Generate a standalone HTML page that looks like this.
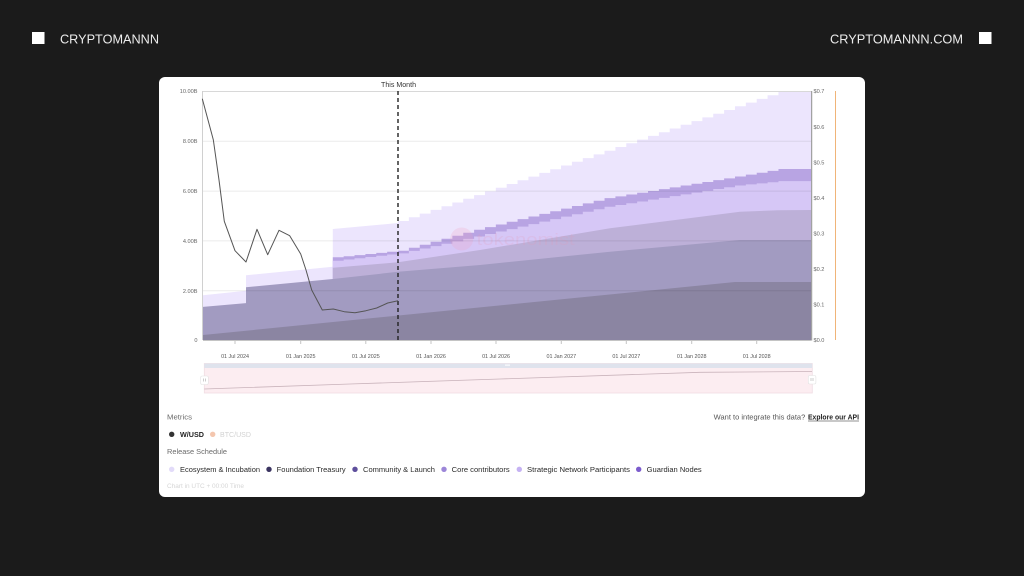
<!DOCTYPE html>
<html>
<head>
<meta charset="utf-8">
<style>
html,body{margin:0;padding:0;background:#1b1b1b;}
body{width:1024px;height:576px;overflow:hidden;}
svg{display:block;}
text{font-family:"Liberation Sans",sans-serif;}
</style>
</head>
<body>
<svg width="1024" height="576" viewBox="0 0 1024 576" xmlns="http://www.w3.org/2000/svg">
  <rect x="0" y="0" width="1024" height="576" fill="#1b1b1b"/>

  <!-- header -->
  <rect x="32" y="32" width="12.5" height="12" fill="#ffffff"/>
  <text x="60" y="43.7" font-size="12.6" fill="#ececec" textLength="99" lengthAdjust="spacingAndGlyphs">CRYPTOMANNN</text>
  <text x="830" y="43.7" font-size="12.6" fill="#ececec" textLength="133" lengthAdjust="spacingAndGlyphs">CRYPTOMANNN.COM</text>
  <rect x="979" y="32" width="12.5" height="12" fill="#ffffff"/>

  <!-- card -->
  <rect x="159" y="77" width="706" height="420" rx="6" ry="6" fill="#ffffff"/>

  <!-- plot areas -->
  <g>
    <path fill="#ece5fd" d="M203,295.2 L246,290.7 L246,275.3 L332.8,266.8 L332.8,229 L398,223 L398,221
      h10.87v-3.7 h10.87v-3.7 h10.87v-3.7 h10.87v-3.7 h10.87v-3.7 h10.87v-3.7 h10.87v-3.7
      h10.87v-3.7 h10.87v-3.7 h10.87v-3.7 h10.87v-3.7 h10.87v-3.7 h10.87v-3.7 h10.87v-3.7
      h10.87v-3.7 h10.87v-3.7 h10.87v-3.7 h10.87v-3.7 h10.87v-3.7 h10.87v-3.7 h10.87v-3.7
      h10.87v-3.7 h10.87v-3.7 h10.87v-3.7 h10.87v-3.7 h10.87v-3.7 h10.87v-3.7 h10.87v-3.7
      h10.87v-3.7 h10.87v-3.7 h10.87v-3.7 h10.87v-3.7 h10.87v-3.7 h10.87v-3.7 h10.87v-3.7
      V91 H811 V340 H203 Z"/>
    <path fill="#b8a4e3" d="M332.8,257.3
      h10.87v-1.1 h10.87v-1.1 h10.87v-1.1 h10.87v-1.1 h10.87v-1.1 h10.87v-1.1
      h10.87v-3 h10.87v-3 h10.87v-3 h10.87v-3 h10.87v-3 h10.87v-3 h10.87v-3
      h10.87v-2.63 h10.87v-2.63 h10.87v-2.63 h10.87v-2.63 h10.87v-2.63 h10.87v-2.63
      h10.87v-2.63 h10.87v-2.63 h10.87v-2.63 h10.87v-2.63 h10.87v-2.63 h10.87v-2.63
      h10.87v-1.8 h10.87v-1.8 h10.87v-1.8 h10.87v-1.8 h10.87v-1.8 h10.87v-1.8
      h10.87v-1.8 h10.87v-1.8 h10.87v-1.8 h10.87v-1.8 h10.87v-1.8 h10.87v-1.8
      h10.87v-1.9 h10.87v-1.9 h10.87v-1.9 h10.87v-1.9
      H811 V340 H332.8 Z"/>
    <path fill="#d6c7f6" d="M332.8,260.7
      h10.87v-1.23 h10.87v-1.23 h10.87v-1.23 h10.87v-1.23 h10.87v-1.23 h10.87v-1.23
      h10.87v-2.4 h10.87v-2.4 h10.87v-2.4 h10.87v-2.4 h10.87v-2.4 h10.87v-2.4 h10.87v-2.4
      h10.87v-2.48 h10.87v-2.48 h10.87v-2.48 h10.87v-2.48 h10.87v-2.48 h10.87v-2.48
      h10.87v-2.48 h10.87v-2.48 h10.87v-2.48 h10.87v-2.48 h10.87v-2.48 h10.87v-2.48
      h10.87v-1.77 h10.87v-1.77 h10.87v-1.77 h10.87v-1.77 h10.87v-1.77 h10.87v-1.77
      h10.87v-1.77 h10.87v-1.77 h10.87v-1.77 h10.87v-1.77 h10.87v-1.77 h10.87v-1.77
      h10.87v-1.1 h10.87v-1.1 h10.87v-1.1 h10.87v-1.1
      H811 V340 H332.8 Z"/>
    <path fill="#bdb0d8" d="M332.8,267.7 L398,262.3 L480,250 L610,228.3 L740,211.7 L778,210.3 L811,210 V340 H332.8 Z"/>
    <path fill="#a29bc1" d="M203,306.9 L246,303.1 L246,287.2 L332.8,279 L398,271.8 L480,265 L610,251.7 L740,240 L811,240 V340 H203 Z"/>
    <path fill="#8b85a2" d="M203,335 L735,282 L811,282 V340 H203 Z"/>
  </g>

  <!-- watermark -->
  <circle cx="461.7" cy="239" r="11.5" fill="#f0a0bf" fill-opacity="0.22"/>
  <text x="476.7" y="245" font-size="17" fill="#e49ab8" fill-opacity="0.2" textLength="98" lengthAdjust="spacingAndGlyphs">tokenomist</text>

  <!-- gridlines -->
  <g stroke="#000" stroke-opacity="0.08" stroke-width="1">
    <line x1="203" y1="91.5" x2="811" y2="91.5" stroke="#d8d8d8" stroke-opacity="1"/>
    <line x1="203" y1="141.3" x2="811" y2="141.3"/>
    <line x1="203" y1="191.1" x2="811" y2="191.1"/>
    <line x1="203" y1="240.9" x2="811" y2="240.9"/>
    <line x1="203" y1="290.7" x2="811" y2="290.7"/>
  </g>
  <line x1="202.5" y1="91" x2="202.5" y2="340" stroke="#d0d0d0" stroke-width="1"/>
  <line x1="203" y1="340.5" x2="811" y2="340.5" stroke="#c4c4c4" stroke-width="1"/>
  <line x1="811.7" y1="91" x2="811.7" y2="340.5" stroke="#8a8a8a" stroke-width="1"/>
  <line x1="835.5" y1="91" x2="835.5" y2="340" stroke="#f0b478" stroke-width="1"/>
  <g stroke="#c4c4c4" stroke-width="1">
    <line x1="235" y1="340" x2="235" y2="344"/>
    <line x1="300.7" y1="340" x2="300.7" y2="344"/>
    <line x1="365.8" y1="340" x2="365.8" y2="344"/>
    <line x1="431" y1="340" x2="431" y2="344"/>
    <line x1="496" y1="340" x2="496" y2="344"/>
    <line x1="561.3" y1="340" x2="561.3" y2="344"/>
    <line x1="626.3" y1="340" x2="626.3" y2="344"/>
    <line x1="691.7" y1="340" x2="691.7" y2="344"/>
    <line x1="756.7" y1="340" x2="756.7" y2="344"/>
  </g>

  <g font-size="5.6" fill="#666" text-anchor="end">
    <text x="197.5" y="93">10.00B</text>
    <text x="197.5" y="143">8.00B</text>
    <text x="197.5" y="193">6.00B</text>
    <text x="197.5" y="243">4.00B</text>
    <text x="197.5" y="293">2.00B</text>
    <text x="197.5" y="342">0</text>
  </g>
  <g font-size="5.6" fill="#666">
    <text x="813.5" y="93">$0.7</text>
    <text x="813.5" y="129">$0.6</text>
    <text x="813.5" y="164.5">$0.5</text>
    <text x="813.5" y="200">$0.4</text>
    <text x="813.5" y="235.5">$0.3</text>
    <text x="813.5" y="271">$0.2</text>
    <text x="813.5" y="306.5">$0.1</text>
    <text x="813.5" y="342">$0.0</text>
  </g>
  <g font-size="5.4" fill="#555" text-anchor="middle">
    <text x="235" y="358">01 Jul 2024</text>
    <text x="300.7" y="358">01 Jan 2025</text>
    <text x="365.8" y="358">01 Jul 2025</text>
    <text x="431" y="358">01 Jan 2026</text>
    <text x="496" y="358">01 Jul 2026</text>
    <text x="561.3" y="358">01 Jan 2027</text>
    <text x="626.3" y="358">01 Jul 2027</text>
    <text x="691.7" y="358">01 Jan 2028</text>
    <text x="756.7" y="358">01 Jul 2028</text>
  </g>

  <line x1="398" y1="91" x2="398" y2="340" stroke="#222" stroke-width="1.4" stroke-dasharray="4,3"/>
  <text x="398.5" y="87" font-size="7" fill="#333" text-anchor="middle" textLength="35" lengthAdjust="spacingAndGlyphs">This Month</text>

  <polyline fill="none" stroke="#555" stroke-width="1" stroke-linejoin="round"
    points="202.3,98.7 213.3,139.7 219,180 224.3,221.3 235,250.7 246,262 257,229.3 267.7,254.7 279,230.3 289.7,235.7 300.7,254 306,270 311.7,290 322.3,310 333.3,309 344.3,311.7 355,312.7 366,310.7 376.7,308 387.7,303 398,300.7"/>

  <rect x="204.3" y="363.5" width="608" height="29.5" fill="#fcedf1" stroke="#f0dde3" stroke-width="0.8"/>
  <rect x="204.3" y="363.5" width="608" height="4.5" fill="#dfe3ed"/>
  <rect x="505" y="364.6" width="5" height="1" fill="#ffffff"/>
  <polyline fill="none" stroke="#c9b3bb" stroke-width="0.8" points="204.3,389 350,384 500,379 700,372.3 812,371.5"/>
  <rect x="200.7" y="376" width="7.6" height="8.5" rx="1.5" fill="#ffffff" stroke="#e2e2e2" stroke-width="0.6"/>
  <line x1="203.5" y1="378.5" x2="203.5" y2="381.5" stroke="#999" stroke-width="0.5"/>
  <line x1="205.5" y1="378.5" x2="205.5" y2="381.5" stroke="#999" stroke-width="0.5"/>
  <rect x="808.3" y="375.5" width="7.6" height="8.5" rx="1.5" fill="#ffffff" stroke="#e2e2e2" stroke-width="0.6"/>
  <line x1="811" y1="378" x2="811" y2="381" stroke="#999" stroke-width="0.5"/>
  <line x1="813" y1="378" x2="813" y2="381" stroke="#999" stroke-width="0.5"/>

  <text x="167" y="419.5" font-size="7" fill="#6a6a6a" textLength="25" lengthAdjust="spacingAndGlyphs">Metrics</text>
  <circle cx="171.7" cy="434.3" r="2.7" fill="#333"/>
  <text x="180" y="436.8" font-size="7" font-weight="bold" fill="#222" textLength="24" lengthAdjust="spacingAndGlyphs">W/USD</text>
  <circle cx="212.7" cy="434.3" r="2.7" fill="#f4c6ae"/>
  <text x="220" y="436.8" font-size="7" fill="#d2d2d2" textLength="31" lengthAdjust="spacingAndGlyphs">BTC/USD</text>

  <text x="713.7" y="419.5" font-size="7" fill="#555" textLength="91.6" lengthAdjust="spacingAndGlyphs">Want to integrate this data?</text>
  <text x="808" y="419.5" font-size="7" font-weight="bold" fill="#222" textLength="51" lengthAdjust="spacingAndGlyphs">Explore our API</text>
  <line x1="808" y1="421" x2="859" y2="421" stroke="#222" stroke-width="0.6"/>

  <text x="167" y="454.2" font-size="7" fill="#6a6a6a" textLength="60" lengthAdjust="spacingAndGlyphs">Release Schedule</text>

  <g font-size="7" fill="#2a2a2a">
    <circle cx="171.7" cy="469.3" r="2.7" fill="#e2dbf9"/>
    <text x="180" y="471.8" textLength="80" lengthAdjust="spacingAndGlyphs">Ecosystem &amp; Incubation</text>
    <circle cx="269" cy="469.3" r="2.7" fill="#3b3461"/>
    <text x="276.7" y="471.8" textLength="69" lengthAdjust="spacingAndGlyphs">Foundation Treasury</text>
    <circle cx="355" cy="469.3" r="2.7" fill="#5e4f9c"/>
    <text x="363" y="471.8" textLength="72" lengthAdjust="spacingAndGlyphs">Community &amp; Launch</text>
    <circle cx="444" cy="469.3" r="2.7" fill="#9c86d8"/>
    <text x="451.7" y="471.8" textLength="58" lengthAdjust="spacingAndGlyphs">Core contributors</text>
    <circle cx="519.3" cy="469.3" r="2.7" fill="#c5b2f3"/>
    <text x="527" y="471.8" textLength="103" lengthAdjust="spacingAndGlyphs">Strategic Network Participants</text>
    <circle cx="638.7" cy="469.3" r="2.7" fill="#7c5ccd"/>
    <text x="646.7" y="471.8" textLength="55" lengthAdjust="spacingAndGlyphs">Guardian Nodes</text>
  </g>

  <text x="167" y="488" font-size="6" fill="#d6d6d6" textLength="77" lengthAdjust="spacingAndGlyphs">Chart in UTC + 00:00 Time</text>
</svg>
</body>
</html>
